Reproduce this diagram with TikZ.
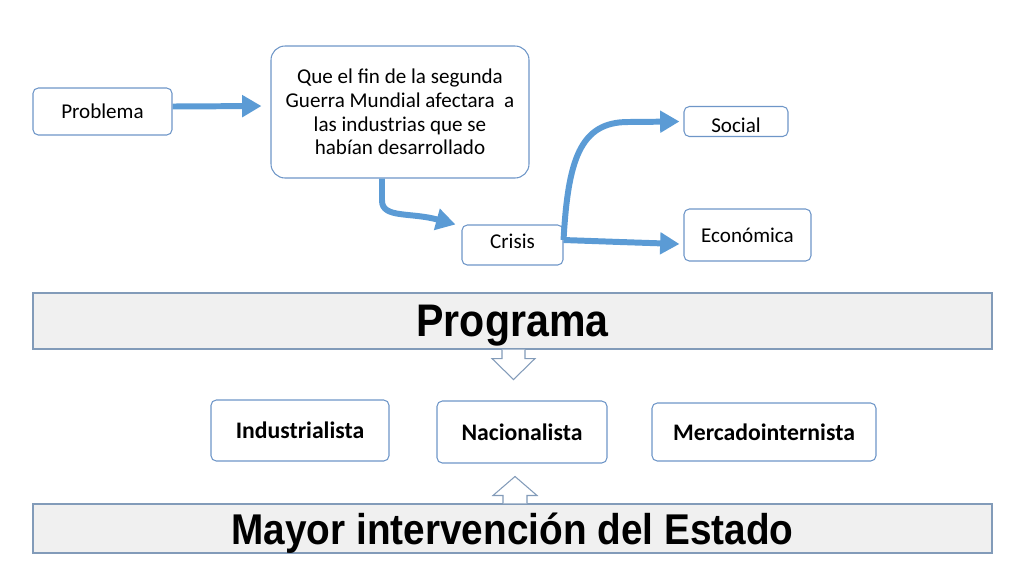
\documentclass[tikz,border=0pt]{standalone}
\usepackage{fontspec}
\setmainfont{Carlito}
\newfontfamily\barfont[FakeStretch=0.9]{Liberation Sans}
\usetikzlibrary{arrows.meta}
\definecolor{boxblue}{RGB}{110,150,200}
\definecolor{flowblue}{RGB}{91,155,213}
\definecolor{bargrey}{RGB}{240,240,240}
\definecolor{barline}{RGB}{130,155,185}
\tikzset{
  box/.style={draw=boxblue, line width=0.6pt, fill=white, rounded corners=3pt, inner sep=0pt, font=\fontsize{12}{13.5}\selectfont},
  bigbox/.style={box, rounded corners=8pt, align=center},
  kindbox/.style={box, font=\fontsize{13.5}{15}\selectfont\bfseries},
  bar/.style={draw=barline, line width=0.6pt, fill=bargrey, inner sep=0pt, minimum width=959*0.02cm, text depth=0pt},
  flow/.style={draw=flowblue, line width=3.4pt, -{Triangle[length=11pt,width=12pt]}},
  blockarrow/.style={draw=barline, line width=0.6pt, fill=white, line join=miter}
}
\begin{document}
\begin{tikzpicture}[x=0.02cm, y=-0.02cm]
            \useasboundingbox (0,0) rectangle (1024,576);
            % upper part
            \node[box, minimum width=139*0.02cm, minimum height=47*0.02cm] (Problema) at (102.5,111.5) {Problema};
            \node[bigbox, minimum width=258*0.02cm, minimum height=132*0.02cm] (Guerra) at (400,112)
                {Que el fin de la segunda\\Guerra Mundial afectara\ \ a\\las industrias que se\\habían desarrollado};
            \node[box, minimum width=101*0.02cm, minimum height=40*0.02cm, text height=3.5pt, text depth=0pt] (Crisis) at (512.5,245) {Crisis};
            \node[box, minimum width=104*0.02cm, minimum height=30*0.02cm, text height=12pt, text depth=0pt] (Social) at (736,121.5) {Social};
            \node[box, minimum width=127*0.02cm, minimum height=52*0.02cm] (Economica) at (747.5,235) {Económica};
            \draw[flow] ([yshift=5*0.02cm]Problema.east) -- ([xshift=-9*0.02cm,yshift=6*0.02cm]Guerra.west);
            \draw[flow] ([xshift=-18*0.02cm]Guerra.south) -- ++(0,22) .. controls +(0,18) and (410,212) .. ([xshift=-6*0.02cm]Crisis.north west);
            \draw[flow] ([yshift=5*0.02cm]Crisis.east) .. controls (568,160) and (580,122) .. (628,122) -- ([xshift=-4*0.02cm]Social.west);
            \draw[flow] ([yshift=5*0.02cm]Crisis.east) -- (620,242) -- ([xshift=-4*0.02cm,yshift=-9*0.02cm]Economica.west);
            % bars
            \node[bar, minimum height=56*0.02cm, text height=18pt] (Programa) at (512.5,321) {\fontsize{26}{30}\selectfont\barfont\bfseries Programa};
            \node[kindbox, minimum width=178*0.02cm, minimum height=61*0.02cm] (Industrial) at (300,430.5) {Industrialista};
            \node[kindbox, minimum width=170*0.02cm, minimum height=62*0.02cm] (Nacional) at (522,432) {Nacionalista};
            \node[kindbox, minimum width=224*0.02cm, minimum height=58*0.02cm] (Mercado) at (764,432) {Mercadointernista};
            \node[bar, minimum height=49*0.02cm, text height=18.5pt] (Estado) at (512.5,528.5) {\fontsize{24.5}{28}\selectfont\barfont\bfseries Mayor intervención del Estado};
            % block arrows
            \draw[blockarrow] ([xshift=-20*0.02cm]Programa.south -| Nacional.north) -- ++(0,9) -- ++(-10,0) -- ++(21.5,21) -- ++(21.5,-21) -- ++(-10,0) -- ++(0,-9);
            \draw[blockarrow] ([xshift=-19*0.02cm]Estado.north -| Nacional.south) -- ++(0,-8) -- ++(-10,0) -- ++(22,-19) -- ++(22,19) -- ++(-10,0) -- ++(0,8);
\end{tikzpicture}
\end{document}
